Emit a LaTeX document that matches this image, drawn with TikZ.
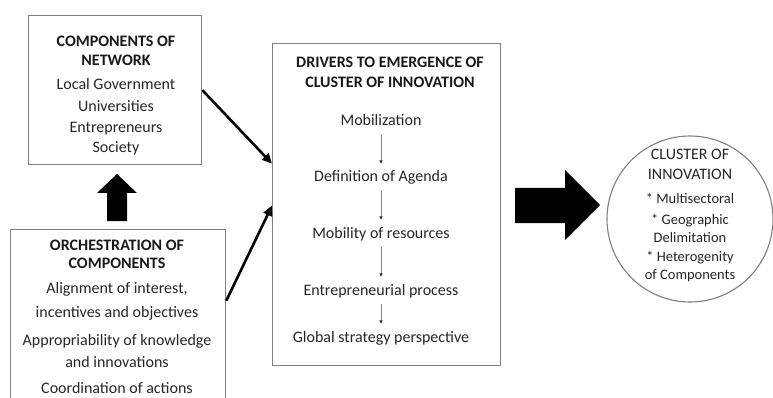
\documentclass[tikz,border=0pt]{standalone}
\usepackage{fontspec}
\setmainfont{Carlito}
\usetikzlibrary{arrows.meta}
\definecolor{txt}{HTML}{262626}
\definecolor{frame}{HTML}{808080}
\begin{document}
\begin{tikzpicture}[x=1pt,y=-1pt,
  box/.style={draw=frame,line width=1.3pt,inner sep=0pt,anchor=north west},
  ttl/.style={font=\fontsize{16}{19}\selectfont\bfseries,text=black!90,anchor=base,inner sep=0pt},
  itm/.style={font=\fontsize{16}{20}\selectfont,text=txt,anchor=base,inner sep=0pt,text height=11pt,text depth=4pt},
  sm/.style={font=\fontsize{14.5}{18}\selectfont,text=txt,anchor=base,inner sep=0pt},
  ctl/.style={font=\fontsize{16}{19}\selectfont,text=txt,anchor=base,inner sep=0pt},
  flow/.style={-{Triangle[length=10pt,width=9pt]},line width=2.6pt,black},
  chainarrow/.style={-{Latex[length=3.5pt,width=3.5pt,color=black!80]},draw=gray,line width=0.6pt,shorten <=5pt,shorten >=7pt},
  blockarrow/.style={fill=black,draw=none}
]
\useasboundingbox (0,0) rectangle (773,398);

% boxes
\node[box,minimum width=173pt,minimum height=149pt] (net) at (28,15) {};
\node[box,minimum width=215pt,minimum height=200pt] (orc) at (10,229) {};
\node[box,minimum width=228pt,minimum height=322pt] (drv) at (272,43) {};
\node[draw=frame,line width=1.1pt,circle,inner sep=0pt,minimum size=166pt] (clu) at (690,219) {};

% components of network
\node[ttl] (n1) at (116,47) {COMPONENTS OF};
\node[ttl] (n2) at (116,66) {NETWORK};
\node[itm] (n3) at (116,90) {Local Government};
\node[itm] (n4) at (116,112) {Universities};
\node[itm] (n5) at (116,133) {Entrepreneurs};
\node[itm] (n6) at (116,153) {Society};

% orchestration
\node[ttl] (o1) at (117,250) {ORCHESTRATION OF};
\node[ttl] (o2) at (117,268) {COMPONENTS};
\node[itm] (o3) at (117,293) {Alignment of interest,};
\node[itm] (o4) at (117,317) {incentives and objectives};
\node[itm] (o5) at (117,345) {Appropriability of knowledge};
\node[itm] (o6) at (117,367) {and innovations};
\node[itm] (o7) at (117,393) {Coordination of actions};

% drivers
\node[ttl] (d1) at (390,68) {DRIVERS TO EMERGENCE OF};
\node[ttl] (d2) at (390,88) {CLUSTER OF INNOVATION};
\node[itm] (s1) at (381,126) {Mobilization};
\node[itm] (s2) at (381,182) {Definition of Agenda};
\node[itm] (s3) at (381,238) {Mobility of resources};
\node[itm] (s4) at (381,295) {Entrepreneurial process};
\node[itm] (s5) at (381,342) {Global strategy perspective};
\draw[chainarrow] (s1.south) -- (s2.north);
\draw[chainarrow] (s2.south) -- (s3.north);
\draw[chainarrow] (s3.south) -- (s4.north);
\draw[chainarrow] (s4.south) -- (s5.north);

% cluster
\node[ctl] (c1) at (690,160) {CLUSTER OF};
\node[ctl] (c2) at (690,180) {INNOVATION};
\node[sm] (c3) at (690,204) {* Multisectoral};
\node[sm] (c4) at (690,224) {* Geographic};
\node[sm] (c5) at (690,242) {Delimitation};
\node[sm] (c6) at (690,261) {* Heterogenity};
\node[sm] (c7) at (690,279) {of Components};

% connectors
\draw[flow] (net.east) -- ([yshift=41pt]drv.west);
\draw[flow] ([yshift=29pt]orc.east) -- ([yshift=-1pt]drv.west);

% block arrows
\path[blockarrow] (107,221) -- (107,193) -- (97,193) -- (117,174) -- (137,193) -- (127,193) -- (127,221) -- cycle;
\path[blockarrow] (515,188) -- (565,188) -- (565,170) -- (600,205) -- (565,240) -- (565,223) -- (515,223) -- cycle;
\end{tikzpicture}
\end{document}
